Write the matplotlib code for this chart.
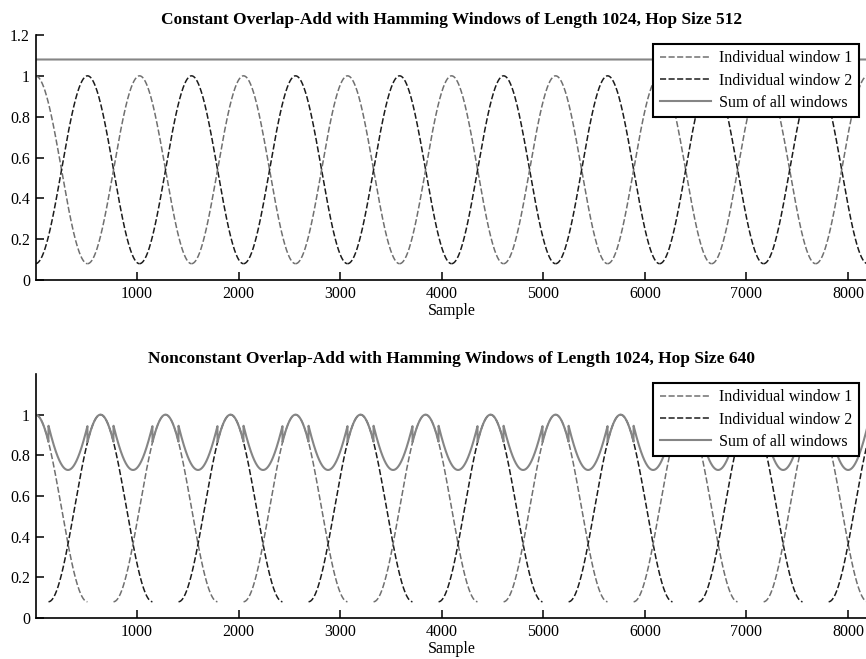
import numpy as np
import matplotlib.pyplot as plt

# overlap-add setup shown in the two panels
signal_length = 8192
window_length = 1024
hop_sizes = [512, 640]
titles = ["Constant Overlap-Add with Hamming Windows of Length 1024, Hop Size 512",
          "Nonconstant Overlap-Add with Hamming Windows of Length 1024, Hop Size 640"]
legend_labels = ["Individual window 1", "Individual window 2", "Sum of all windows"]
yticks_top = [0, 0.2, 0.4, 0.6, 0.8, 1, 1.2]
yticks_bottom = [0, 0.2, 0.4, 0.6, 0.8, 1]
ytick_labels_top = ["0", "0.2", "0.4", "0.6", "0.8", "1", "1.2"]
ytick_labels_bottom = ["0", "0.2", "0.4", "0.6", "0.8", "1"]
xticks = [1000, 2000, 3000, 4000, 5000, 6000, 7000, 8000]

plt.rcParams["font.family"] = ["Liberation Serif", "DejaVu Serif"]
plt.rcParams["font.size"] = 11.5

GRAY = "#707070"
BLACK = "#1c1c1c"
SUM = "#858585"

fig = plt.figure(figsize=(8.66, 6.59), dpi=100)
ax_top = fig.add_axes([0.041, 0.5751, 0.9608, 0.3718])
ax_bot = fig.add_axes([0.041, 0.0622, 0.9608, 0.3703])

win = np.hamming(window_length + 1)[:-1]

for ax, hop, title, yt, ytl in [(ax_top, hop_sizes[0], titles[0], yticks_top, ytick_labels_top),
                                (ax_bot, hop_sizes[1], titles[1], yticks_bottom, ytick_labels_bottom)]:
    total = np.zeros(signal_length)
    starts = np.arange(-window_length // 2, signal_length, hop)
    handles = [None, None]
    for k, s in enumerate(starts):
        idx = np.arange(s, s + window_length)
        keep = (idx >= 0) & (idx < signal_length)
        total[idx[keep]] += win[keep]
        col = GRAY if k % 2 == 0 else BLACK
        ln, = ax.plot(idx[keep] + 1, win[keep], color=col, lw=1.1, dashes=(4, 1.6))
        handles[k % 2] = ln
    ln_sum, = ax.plot(np.arange(1, signal_length + 1), total, color=SUM, lw=1.5)

    ax.set_xlim(1, signal_length)
    ax.set_ylim(0, 1.2)
    ax.set_yticks(yt)
    ax.set_yticklabels(ytl)
    ax.set_xticks(xticks)
    ax.set_xlabel("Sample", labelpad=1)
    ax.set_title(title, fontweight="bold", fontsize=12.5, pad=8)
    for side in ["top", "right"]:
        ax.spines[side].set_visible(False)
    for side in ["left", "bottom"]:
        ax.spines[side].set_linewidth(1.2)
    ax.tick_params(direction="in", length=6, width=1.1, pad=4)

    leg = ax.legend([handles[0], handles[1], ln_sum], legend_labels, loc="upper right",
                    fancybox=False, framealpha=1, edgecolor="black", handlelength=3.2,
                    labelspacing=0.38, borderaxespad=0.55, handletextpad=0.5,
                    borderpad=0.42, fontsize=11.5)
    leg.get_frame().set_linewidth(1.5)

fig.savefig("out.png", dpi=100)
